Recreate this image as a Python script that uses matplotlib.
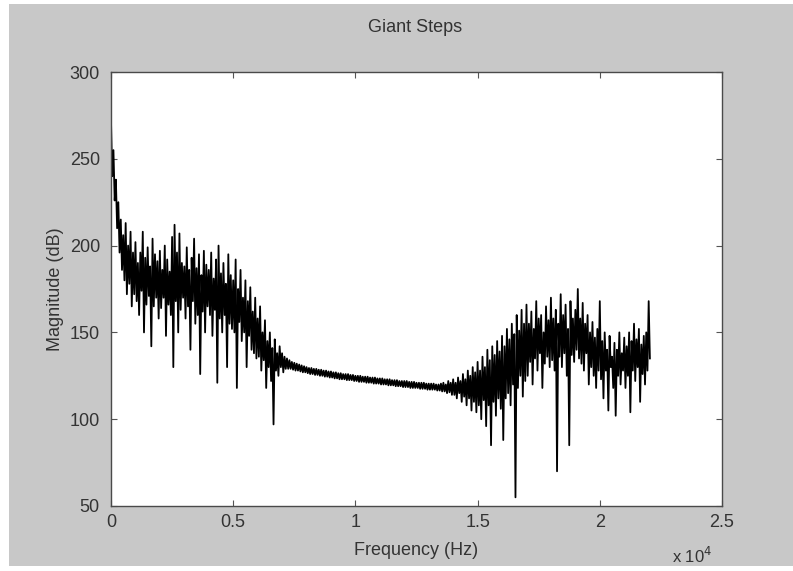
import matplotlib
matplotlib.use("Agg")
import matplotlib.pyplot as plt
import numpy as np
from matplotlib.patches import Rectangle

# Спектр "Giant Steps": верхня та нижня межа смуги, крок 100 Гц (0..22000 Гц)
freq_step = 100
mag_upper = [
    272, 255, 238, 225, 215, 206, 213, 200, 208, 196,
    202, 190, 196, 208, 193, 199, 188, 204, 195, 191,
    197, 186, 200, 192, 185, 205, 212, 196, 207, 190,
    188, 199, 186, 193, 204, 187, 195, 183, 197, 189,
    186, 196, 181, 192, 200, 184, 190, 178, 195, 183,
    180, 192, 175, 186, 170, 180, 168, 176, 162, 170,
    158, 165, 150, 157, 145, 150, 141, 146, 138, 142,
    138, 136, 135, 134, 133, 132.5, 132, 131.5, 131, 130.5,
    130, 129.5, 129.5, 129, 129, 128.5, 128.5, 128, 128, 127.5,
    127.5, 127, 127, 126.5, 126.5, 126, 126, 126, 125.5, 125.5,
    125, 125, 125, 124.5, 124.5, 124.5, 124, 124, 124, 123.5,
    123.5, 123.5, 123, 123, 123, 122.5, 122.5, 122.5, 122, 122,
    122, 122, 121.5, 121.5, 121.5, 121, 121, 121, 121, 120.5,
    120.5, 120.5, 120.5, 120, 120, 120.5, 121, 120, 122, 121,
    123, 121, 124, 122, 126, 123, 128, 125, 130, 127,
    133, 128, 136, 130, 140, 134, 142, 137, 145, 139,
    148, 142, 152, 146, 155, 149, 160, 151, 163, 155,
    166, 155, 162, 152, 168, 158, 160, 150, 165, 157,
    170, 158, 163, 155, 172, 160, 166, 152, 168, 158,
    163, 175, 158, 167, 155, 160, 150, 156, 147, 152,
    168, 145, 150, 140, 148, 136, 144, 140, 150, 138,
    147, 142, 150, 145, 155, 146, 152, 143, 148, 150,
    168,
]
mag_lower = [
    240, 226, 210, 196, 186, 180, 172, 178, 165, 172,
    168, 160, 174, 150, 166, 171, 142, 165, 170, 158,
    164, 170, 148, 166, 160, 130, 168, 150, 163, 170,
    158, 165, 140, 168, 155, 160, 126, 162, 150, 165,
    160, 148, 163, 121, 158, 150, 160, 130, 155, 152,
    150, 118, 156, 145, 150, 130, 148, 140, 138, 135,
    136, 128, 134, 118, 130, 122, 97, 128, 125, 130,
    127, 129, 129, 129, 128.5, 128, 128, 127.5, 127, 127,
    126.5, 126, 126, 125.5, 125.5, 125, 125, 124.5, 124.5, 124,
    124, 123.5, 123.5, 123, 123, 123, 122.5, 122.5, 122.5, 122,
    122, 121.5, 121.5, 121.5, 121, 121, 121, 120.5, 120.5, 120.5,
    120, 120, 120, 119.5, 119.5, 119.5, 119, 119, 119, 118.5,
    118.5, 118.5, 118, 118, 118, 118, 117.5, 117.5, 117.5, 117,
    117, 117, 117, 116.5, 116.5, 116, 116, 115, 115.5, 114,
    114, 112, 115, 110, 113, 108, 112, 105, 110, 104,
    108, 100, 111, 96, 108, 85, 110, 102, 112, 106,
    88, 112, 115, 108, 120, 55, 118, 125, 113, 122,
    125, 133, 120, 135, 128, 138, 118, 132, 136, 130,
    134, 128, 70, 136, 130, 138, 125, 85, 137, 133,
    140, 135, 132, 128, 138, 120, 130, 125, 118, 128,
    123, 112, 128, 105, 130, 118, 102, 125, 120, 128,
    118, 125, 104, 128, 122, 130, 110, 126, 120, 128,
    135,
]

x_ticks = [0, 5000, 10000, 15000, 20000, 25000]
x_tick_labels = ["0", "0.5", "1", "1.5", "2", "2.5"]
y_ticks = [50, 100, 150, 200, 250, 300]

# Чергуємо верхні та нижні значення, щоб отримати "шумну" лінію
f = np.arange(len(mag_upper)) * freq_step
freq = np.column_stack([f, f + freq_step / 2]).ravel()
mag = np.column_stack([mag_upper, mag_lower]).ravel()

text_color = "#333333"
plt.rcParams["font.family"] = ["Liberation Sans", "DejaVu Sans"]

fig = plt.figure(figsize=(7.93, 5.71), dpi=100, facecolor="white")
# сірий фон як у MATLAB, з тонкою білою рамкою
fig.patches.append(Rectangle((9 / 793, 5 / 571), 1 - 9 / 793, 1 - 9 / 571,
                             transform=fig.transFigure, facecolor="#c8c8c8",
                             edgecolor="none", zorder=-5))

ax = fig.add_axes([111 / 793, 1 - 506 / 571, (722 - 111) / 793, (506 - 72) / 571])
ax.set_facecolor("white")
ax.plot(freq, mag, color="black", linewidth=1.3)

ax.set_xlim(0, 25000)
ax.set_ylim(50, 300)
ax.set_xticks(x_ticks)
ax.set_xticklabels(x_tick_labels)
ax.set_yticks(y_ticks)
ax.tick_params(direction="in", length=4, width=0.8, color="#555555",
               labelsize=13, labelcolor=text_color, top=True, right=True)
ax.tick_params(axis="y", pad=8)
ax.tick_params(axis="x", pad=6)
for sp in ax.spines.values():
    sp.set_color("#4a4a4a")
    sp.set_linewidth(1.0)

fig.text(415 / 793, 1 - 28 / 571, "Giant Steps", fontsize=13, color=text_color,
         ha="center", va="center")
ax.set_xlabel("Frequency (Hz)", fontsize=13, color=text_color, labelpad=8)
ax.set_ylabel("Magnitude (dB)", fontsize=13, color=text_color, labelpad=4)
fig.text(692 / 793, 1 - 556 / 571, r"x 10$^4$", fontsize=12, color=text_color,
         ha="center", va="center")

plt.savefig("out.png", dpi=100, facecolor=fig.get_facecolor())
